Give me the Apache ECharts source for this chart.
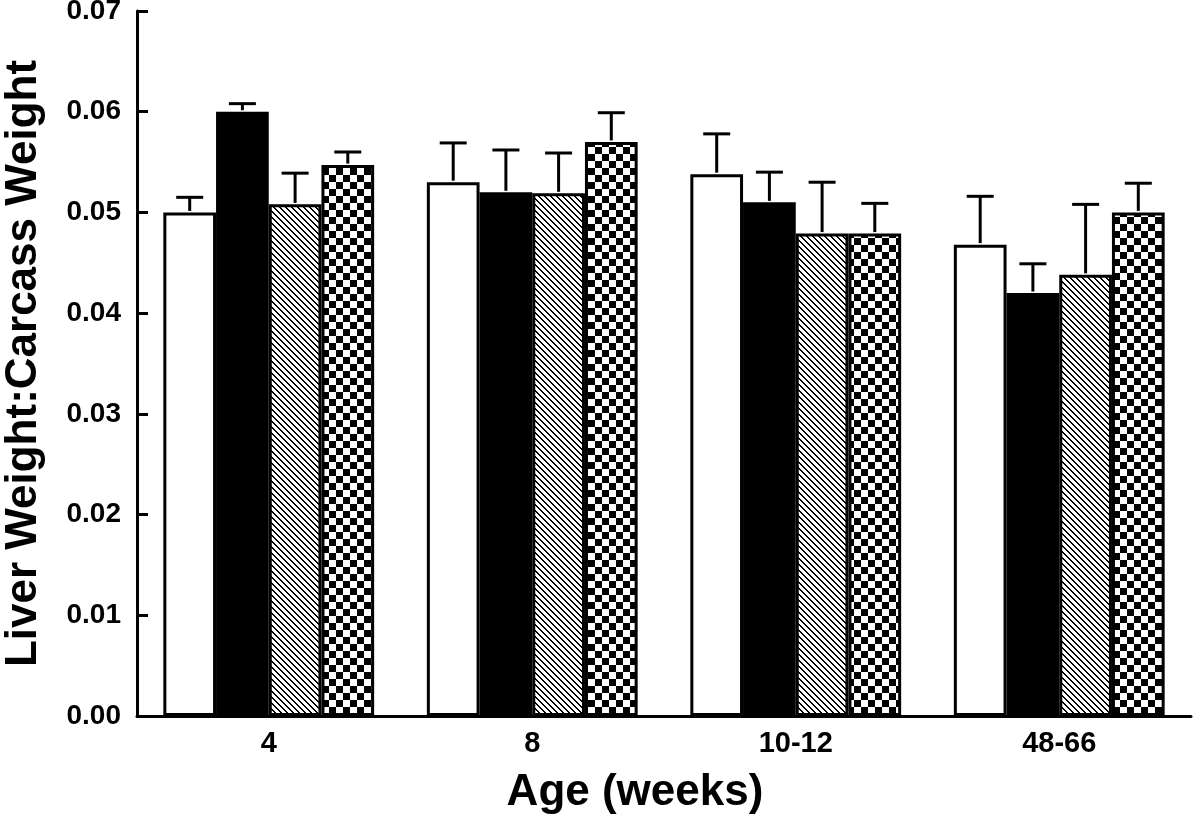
<!DOCTYPE html>
<html>
<head>
<meta charset="utf-8">
<script src="https://cdn.jsdelivr.net/npm/echarts@6/dist/echarts.min.js"></script>
<style>html,body{margin:0;padding:0;background:#fff}#c{width:1200px;height:819px}</style>
</head>
<body>
<div id="c"></div>
<script>
const categories = ['4', '8', '10-12', '48-66'];
const whiteMeans = [0.0500, 0.0530, 0.0538, 0.0468];
const blackMeans = [0.0600, 0.0520, 0.0510, 0.0420];
const hatchMeans = [0.0508, 0.0519, 0.0479, 0.0438];
const checkMeans = [0.0547, 0.0570, 0.0479, 0.0500];
const whiteErr = [0.0015, 0.0039, 0.0040, 0.0048];
const blackErr = [0.0008, 0.0042, 0.0030, 0.0029];
const hatchErr = [0.0031, 0.0040, 0.0051, 0.0070];
const checkErr = [0.0013, 0.0029, 0.0030, 0.0029];
const yTicks = [0, 0.01, 0.02, 0.03, 0.04, 0.05, 0.06, 0.07];

function hatchPattern() {
  const c = document.createElement('canvas');
  const s = 6;
  c.width = s; c.height = s;
  const g = c.getContext('2d');
  g.fillStyle = '#fff'; g.fillRect(0, 0, s, s);
  g.fillStyle = '#000';
  for (let y = 0; y < s; y++) {
    for (let k = 0; k < 2; k++) {
      g.fillRect((y + k) % s, y, 1, 1);
    }
  }
  return { image: c, repeat: 'repeat' };
}
function checkPattern() {
  const c = document.createElement('canvas');
  const s = 7;
  c.width = 2 * s; c.height = 2 * s;
  const g = c.getContext('2d');
  g.fillStyle = '#fff'; g.fillRect(0, 0, 2 * s, 2 * s);
  g.fillStyle = '#000';
  g.fillRect(0, 0, s, s); g.fillRect(s, s, s, s);
  return { image: c, repeat: 'repeat' };
}

const seriesDefs = [
  { name: 'A', means: whiteMeans, err: whiteErr, color: '#ffffff' },
  { name: 'B', means: blackMeans, err: blackErr, color: '#000000' },
  { name: 'C', means: hatchMeans, err: hatchErr, color: hatchPattern() },
  { name: 'D', means: checkMeans, err: checkErr, color: checkPattern() }
];
const N = seriesDefs.length;
const catGap = 0.2;

const series = [];
seriesDefs.forEach((d, si) => {
  series.push({
    type: 'bar', name: d.name, data: d.means,
    barGap: '0%', barCategoryGap: (catGap * 100) + '%',
    itemStyle: { color: d.color, borderColor: '#000', borderWidth: 3 },
    z: 2, animation: false
  });
});
seriesDefs.forEach((d, si) => {
  series.push({
    type: 'custom', name: d.name + '_err',
    data: d.means.map((m, i) => [i, m, m + d.err[i]]),
    z: 3, animation: false, silent: true,
    renderItem: function (params, api) {
      const idx = api.value(0);
      const band = api.size([1, 0])[0];
      const bw = band * (1 - catGap) / N;
      const base = api.coord([idx, api.value(1)]);
      const topP = api.coord([idx, api.value(2)]);
      const x = base[0] - band * (1 - catGap) / 2 + bw * (si + 0.5);
      const half = 13.5;
      const st = { stroke: '#000', lineWidth: 3 };
      return {
        type: 'group',
        children: [
          { type: 'line', shape: { x1: x, y1: base[1] - 1.5, x2: x, y2: topP[1] }, style: st },
          { type: 'line', shape: { x1: x - half, y1: topP[1], x2: x + half, y2: topP[1] }, style: st }
        ]
      };
    }
  });
});

const chart = echarts.init(document.getElementById('c'), null, { renderer: 'canvas' });
chart.setOption({
  backgroundColor: '#fff',
  animation: false,
  title: {
    text: 'Age (weeks)',
    left: 630, top: 766,
    textAlign: 'center',
    textStyle: { fontFamily: 'Liberation Sans', fontWeight: 'bold', fontSize: 44, color: '#000' }
  },
  grid: { left: 137, right: 9, top: 11, bottom: 103, containLabel: false, outerBoundsMode: 'none' },
  xAxis: {
    type: 'category', data: categories,
    axisLine: { lineStyle: { color: '#000', width: 3 } },
    axisTick: { show: false },
    axisLabel: { color: '#000', fontFamily: 'Liberation Sans', fontWeight: 'bold', fontSize: 29, margin: 13 }
  },
  yAxis: {
    type: 'value', min: yTicks[0], max: yTicks[yTicks.length - 1], interval: 0.01,
    name: 'Liver Weight:Carcass Weight', nameLocation: 'middle', nameGap: 91,
    nameTextStyle: { color: '#000', fontFamily: 'Liberation Sans', fontWeight: 'bold', fontSize: 44 },
    axisLine: { show: true, lineStyle: { color: '#000', width: 3 } },
    axisTick: { show: true, inside: true, length: 11, lineStyle: { color: '#000', width: 3 } },
    splitLine: { show: false },
    axisLabel: { color: '#000', fontFamily: 'Liberation Sans', fontWeight: 'bold', fontSize: 28, margin: 16,
      formatter: v => v.toFixed(2) }
  },
  series: series
});
</script>
</body>
</html>
